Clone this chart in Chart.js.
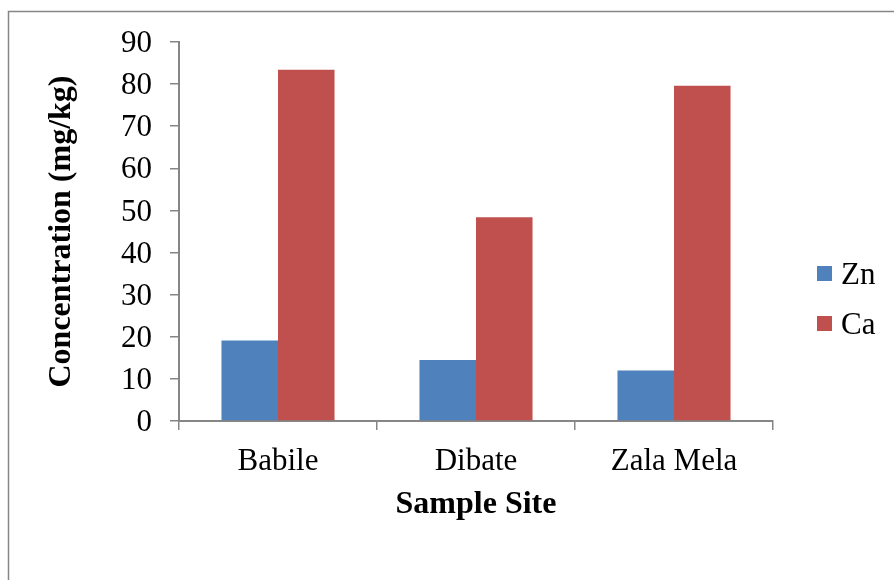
<!DOCTYPE html>
<html>
<head>
<meta charset="utf-8">
<script src="https://cdn.jsdelivr.net/npm/chart.js@4.4.1/dist/chart.umd.min.js"></script>
<style>
  html, body { margin: 0; padding: 0; background: #fff; }
  #wrap { width: 894px; height: 580px; }
</style>
</head>
<body>
<div id="wrap"><canvas id="chart" width="894" height="580"></canvas></div>
<script>
// --- DATA ---
const sites = ['Babile', 'Dibate', 'Zala Mela'];
const znValues = [19.1, 14.5, 12.0];
const caValues = [83.4, 48.4, 79.6];
const yTicks = [0, 10, 20, 30, 40, 50, 60, 70, 80, 90];

const FONT = '"Liberation Serif", "Times New Roman", serif';
const AXIS_GRAY = '#868686';

// outer frame of the picture (only top and left edges show)
const framePlugin = {
    id: 'frame',
    beforeDraw(chart) {
        const ctx = chart.ctx;
        ctx.save();
        ctx.fillStyle = '#ffffff';
        ctx.fillRect(0, 0, chart.width, chart.height);
        ctx.strokeStyle = AXIS_GRAY;
        ctx.lineWidth = 1.5;
        ctx.beginPath();
        ctx.moveTo(8.5, chart.height);
        ctx.lineTo(8.5, 11.5);
        ctx.lineTo(chart.width, 11.5);
        ctx.stroke();
        ctx.restore();
    }
};

// simple legend on the right, square + label
const sideLegend = {
    id: 'sideLegend',
    afterDraw(chart) {
        const ctx = chart.ctx;
        ctx.save();
        ctx.font = '31px ' + FONT;
        ctx.textBaseline = 'alphabetic';
        ctx.textAlign = 'left';
        chart.data.datasets.forEach((ds, i) => {
            const top = 266 + i * 50;
            ctx.fillStyle = ds.backgroundColor;
            ctx.fillRect(817, top, 15, 15);
            ctx.fillStyle = '#000';
            ctx.fillText(ds.label, 841, top + 18);
        });
        ctx.restore();
    }
};

new Chart(document.getElementById('chart'), {
    type: 'bar',
    data: {
        labels: sites,
        datasets: [
            { label: 'Zn', data: znValues, backgroundColor: '#4F81BD' },
            { label: 'Ca', data: caValues, backgroundColor: '#C0504D' }
        ]
    },
    options: {
        responsive: false,
        animation: false,
        devicePixelRatio: 1,
        layout: { padding: { left: 43, top: 42, right: 121, bottom: 56 } },
        plugins: {
            legend: { display: false },
            tooltip: { enabled: false }
        },
        datasets: {
            bar: { categoryPercentage: 0.571, barPercentage: 1.0 }
        },
        scales: {
            x: {
                afterFit(scale) { scale.height = 103; },
                grid: {
                    drawOnChartArea: false,
                    drawTicks: true,
                    tickLength: 9,
                    color: AXIS_GRAY,
                    lineWidth: 1.5,
                    offset: true
                },
                border: { color: AXIS_GRAY, width: 2 },
                ticks: {
                    color: '#000',
                    padding: 13,
                    font: { family: FONT, size: 31 }
                },
                title: {
                    display: true,
                    text: 'Sample Site',
                    color: '#000',
                    padding: 0,
                    font: { family: FONT, size: 32, weight: 'bold' }
                }
            },
            y: {
                min: 0,
                max: 90,
                afterFit(scale) { scale.width = 179 - 43; },
                afterBuildTicks(scale) { scale.ticks = yTicks.map(v => ({ value: v })); },
                grid: {
                    drawOnChartArea: false,
                    drawTicks: true,
                    tickLength: 9,
                    color: AXIS_GRAY,
                    lineWidth: 1.5
                },
                border: { color: AXIS_GRAY, width: 2 },
                ticks: {
                    color: '#000',
                    padding: 18,
                    labelOffset: 2,
                    font: { family: FONT, size: 31 }
                },
                title: {
                    display: true,
                    text: 'Concentration (mg/kg)',
                    color: '#000',
                    padding: 0,
                    font: { family: FONT, size: 32, weight: 'bold' }
                }
            }
        }
    },
    plugins: [framePlugin, sideLegend]
});
</script>
</body>
</html>
